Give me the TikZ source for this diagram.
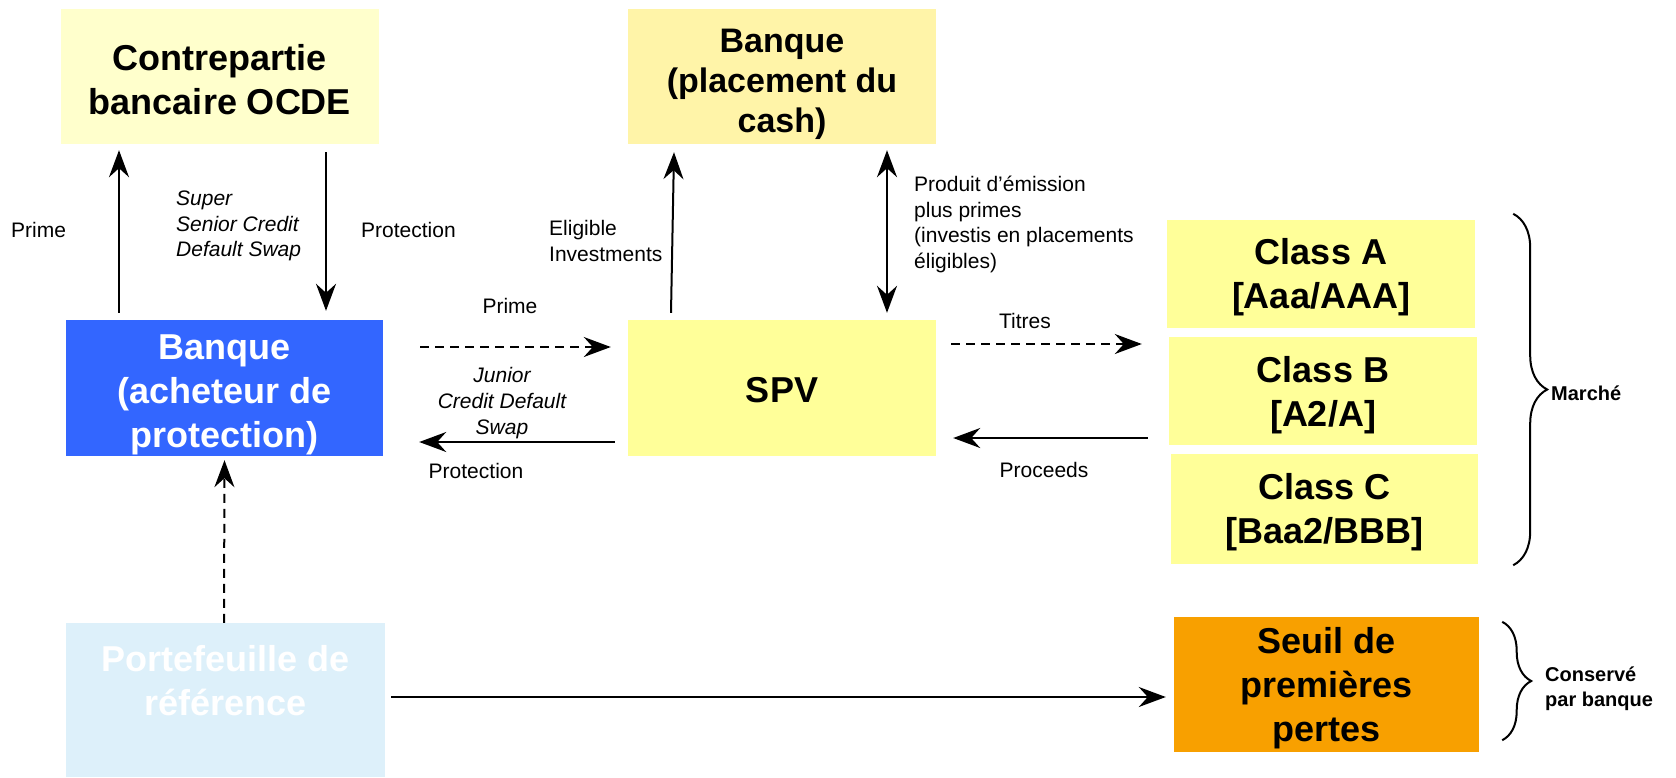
\documentclass[tikz,border=0pt]{standalone}
\usepackage{fontspec}
\setmainfont{Liberation Sans}
\usetikzlibrary{arrows.meta,decorations.pathreplacing,calc}

\definecolor{palecream}{HTML}{FFFFCC}
\definecolor{cashyellow}{HTML}{FFF4A8}
\definecolor{lightyellow}{HTML}{FFFF99}
\definecolor{buyerblue}{HTML}{3366FF}
\definecolor{paleblue}{HTML}{DDF0FA}
\definecolor{lossorange}{HTML}{F8A000}

\newcommand\bigboxfont{\bfseries\fontsize{36}{44}\selectfont}
\newcommand\flowfont{\fontsize{21}{25.6}\selectfont}
\newcommand\sidefont{\bfseries\fontsize{20}{24.6}\selectfont}

\begin{document}
\begin{tikzpicture}[x=1pt,y=-1pt,
  box/.style={rectangle, inner sep=0pt},
  boxtext/.style={inner sep=0pt, align=center, font=\bigboxfont},
  flowlabel/.style={inner sep=0pt, font=\flowfont},
  sidelabel/.style={inner sep=0pt, anchor=west, align=left, font=\sidefont},
  tip/.tip={Stealth[length=27pt,width=20pt,inset=9pt]},
  arr/.style={line width=2pt, -tip},
  twoway/.style={line width=2pt, tip-tip},
  dasharr/.style={arr, dash pattern=on 9pt off 6pt},
  bracket/.style={line width=2pt, decorate, decoration={brace, amplitude=#1}}
]
\useasboundingbox (0,0) rectangle (1676,777);

% boxes
\node[box, fill=palecream, minimum width=318, minimum height=135] (contre) at (220,76.5) {};
\node[box, fill=cashyellow, minimum width=308, minimum height=135] (place) at (782,76.5) {};
\node[box, fill=buyerblue, minimum width=317, minimum height=136] (blue) at (224.5,388) {};
\node[box, fill=lightyellow, minimum width=308, minimum height=136] (spv) at (782,388) {};
\node[box, fill=lightyellow, minimum width=308, minimum height=108] (classA) at (1321,274) {};
\node[box, fill=lightyellow, minimum width=308, minimum height=108] (classB) at (1323,391) {};
\node[box, fill=lightyellow, minimum width=307, minimum height=110] (classC) at (1324.5,509) {};
\node[box, fill=paleblue, minimum width=319, minimum height=154] (port) at (225.5,700) {};
\node[box, fill=lossorange, minimum width=305, minimum height=135] (seuil) at (1326.5,684.5) {};

% box captions
\node[boxtext] (contreT) at ($(contre.center)+(0,3)$) {Contrepartie\\bancaire OCDE};
\node[boxtext, font=\bfseries\fontsize{34}{40}\selectfont] (placeT) at ($(place.center)+(0,8)$) {Banque\\(placement du\\cash)};
\node[boxtext, text=white] (blueT) at ($(blue.center)+(0,7)$) {Banque\\(acheteur de\\protection)};
\node[boxtext] (spvT) at ($(spv.center)+(0,2)$) {SPV};
\node[boxtext] (classAT) at ($(classA.center)+(0,3)$) {Class A\\{[}Aaa/AAA{]}};
\node[boxtext] (classBT) at ($(classB.center)+(0,4)$) {Class B\\{[}A2/A{]}};
\node[boxtext] (classCT) at ($(classC.center)+(0,3)$) {Class C\\{[}Baa2/BBB{]}};
\node[boxtext, text=white] (portT) at (225.5,680.5) {Portefeuille de\\référence};
\node[boxtext] (seuilT) at ($(seuil.center)+(0,4)$) {Seuil de\\premières\\pertes};

% flows between the bank and the OECD counterparty
\draw[arr] ($(blue.north)+(-105.5,-7)$) -- ($(contre.south)+(-101,6)$);
\draw[arr] ($(contre.south)+(106,8)$) -- ($(blue.north)+(101.5,-9)$);
\node[flowlabel, anchor=west] (prime1) at (11,230) {Prime};
\node[flowlabel, anchor=west, align=left, font=\flowfont\itshape] (sscds) at (176,226) {Super\\Senior Credit\\Default Swap};
\node[flowlabel, anchor=west] (prot1) at (361,230) {Protection};

% flows between the SPV and the cash bank
\draw[arr] ($(spv.north)+(-111,-7)$) -- ($(place.south)+(-108,8)$);
\draw[twoway] ($(place.south)+(105,6)$) -- ($(spv.north)+(105,-7)$);
\node[flowlabel, anchor=west, align=left] (elig) at (549,241) {Eligible\\Investments};
\node[flowlabel, anchor=west, align=left] (produit) at (914,224.5) {Produit d’émission\\plus primes\\(investis en placements\\éligibles)};

% junior credit default swap
\draw[dasharr] ($(blue.east)+(37,-41)$) -- ($(spv.west)+(-17,-41)$);
\draw[arr] ($(spv.west)+(-13,54)$) -- ($(blue.east)+(36,54)$);
\node[flowlabel] (prime2) at (510,306) {Prime};
\node[flowlabel, align=center, font=\flowfont\itshape] (jcds) at (502,403) {Junior\\Credit Default\\Swap};
\node[flowlabel] (prot2) at (476,471) {Protection};

% notes issued to the market
\draw[dasharr] ($(spv.east)+(15,-44)$) -- ($(classB.west)+(-27,-47)$);
\draw[arr] ($(classB.west)+(-21,47)$) -- ($(spv.east)+(17,50)$);
\node[flowlabel] (titres) at (1025,321) {Titres};
\node[flowlabel] (proceeds) at (1044,470) {Proceeds};

% reference portfolio
\draw[dasharr] ($(port.north)+(-1.5,0)$) -- ($(blue.south)+(0,4)$);
\draw[arr] ($(port.east)+(6,-3)$) -- ($(seuil.west)+(-8,12.5)$);

% braces
\draw[bracket=34pt] ($(classA.north east)+(38,-6)$) -- ($(classC.south east)+(35,1)$);
\node[sidelabel] (marche) at (1551,393) {Marché};
\draw[bracket=29pt] ($(seuil.north east)+(23,5)$) -- ($(seuil.south east)+(23,-12)$);
\node[sidelabel] (conserve) at (1545,689) {Conservé\\par banque};
\end{tikzpicture}
\end{document}
